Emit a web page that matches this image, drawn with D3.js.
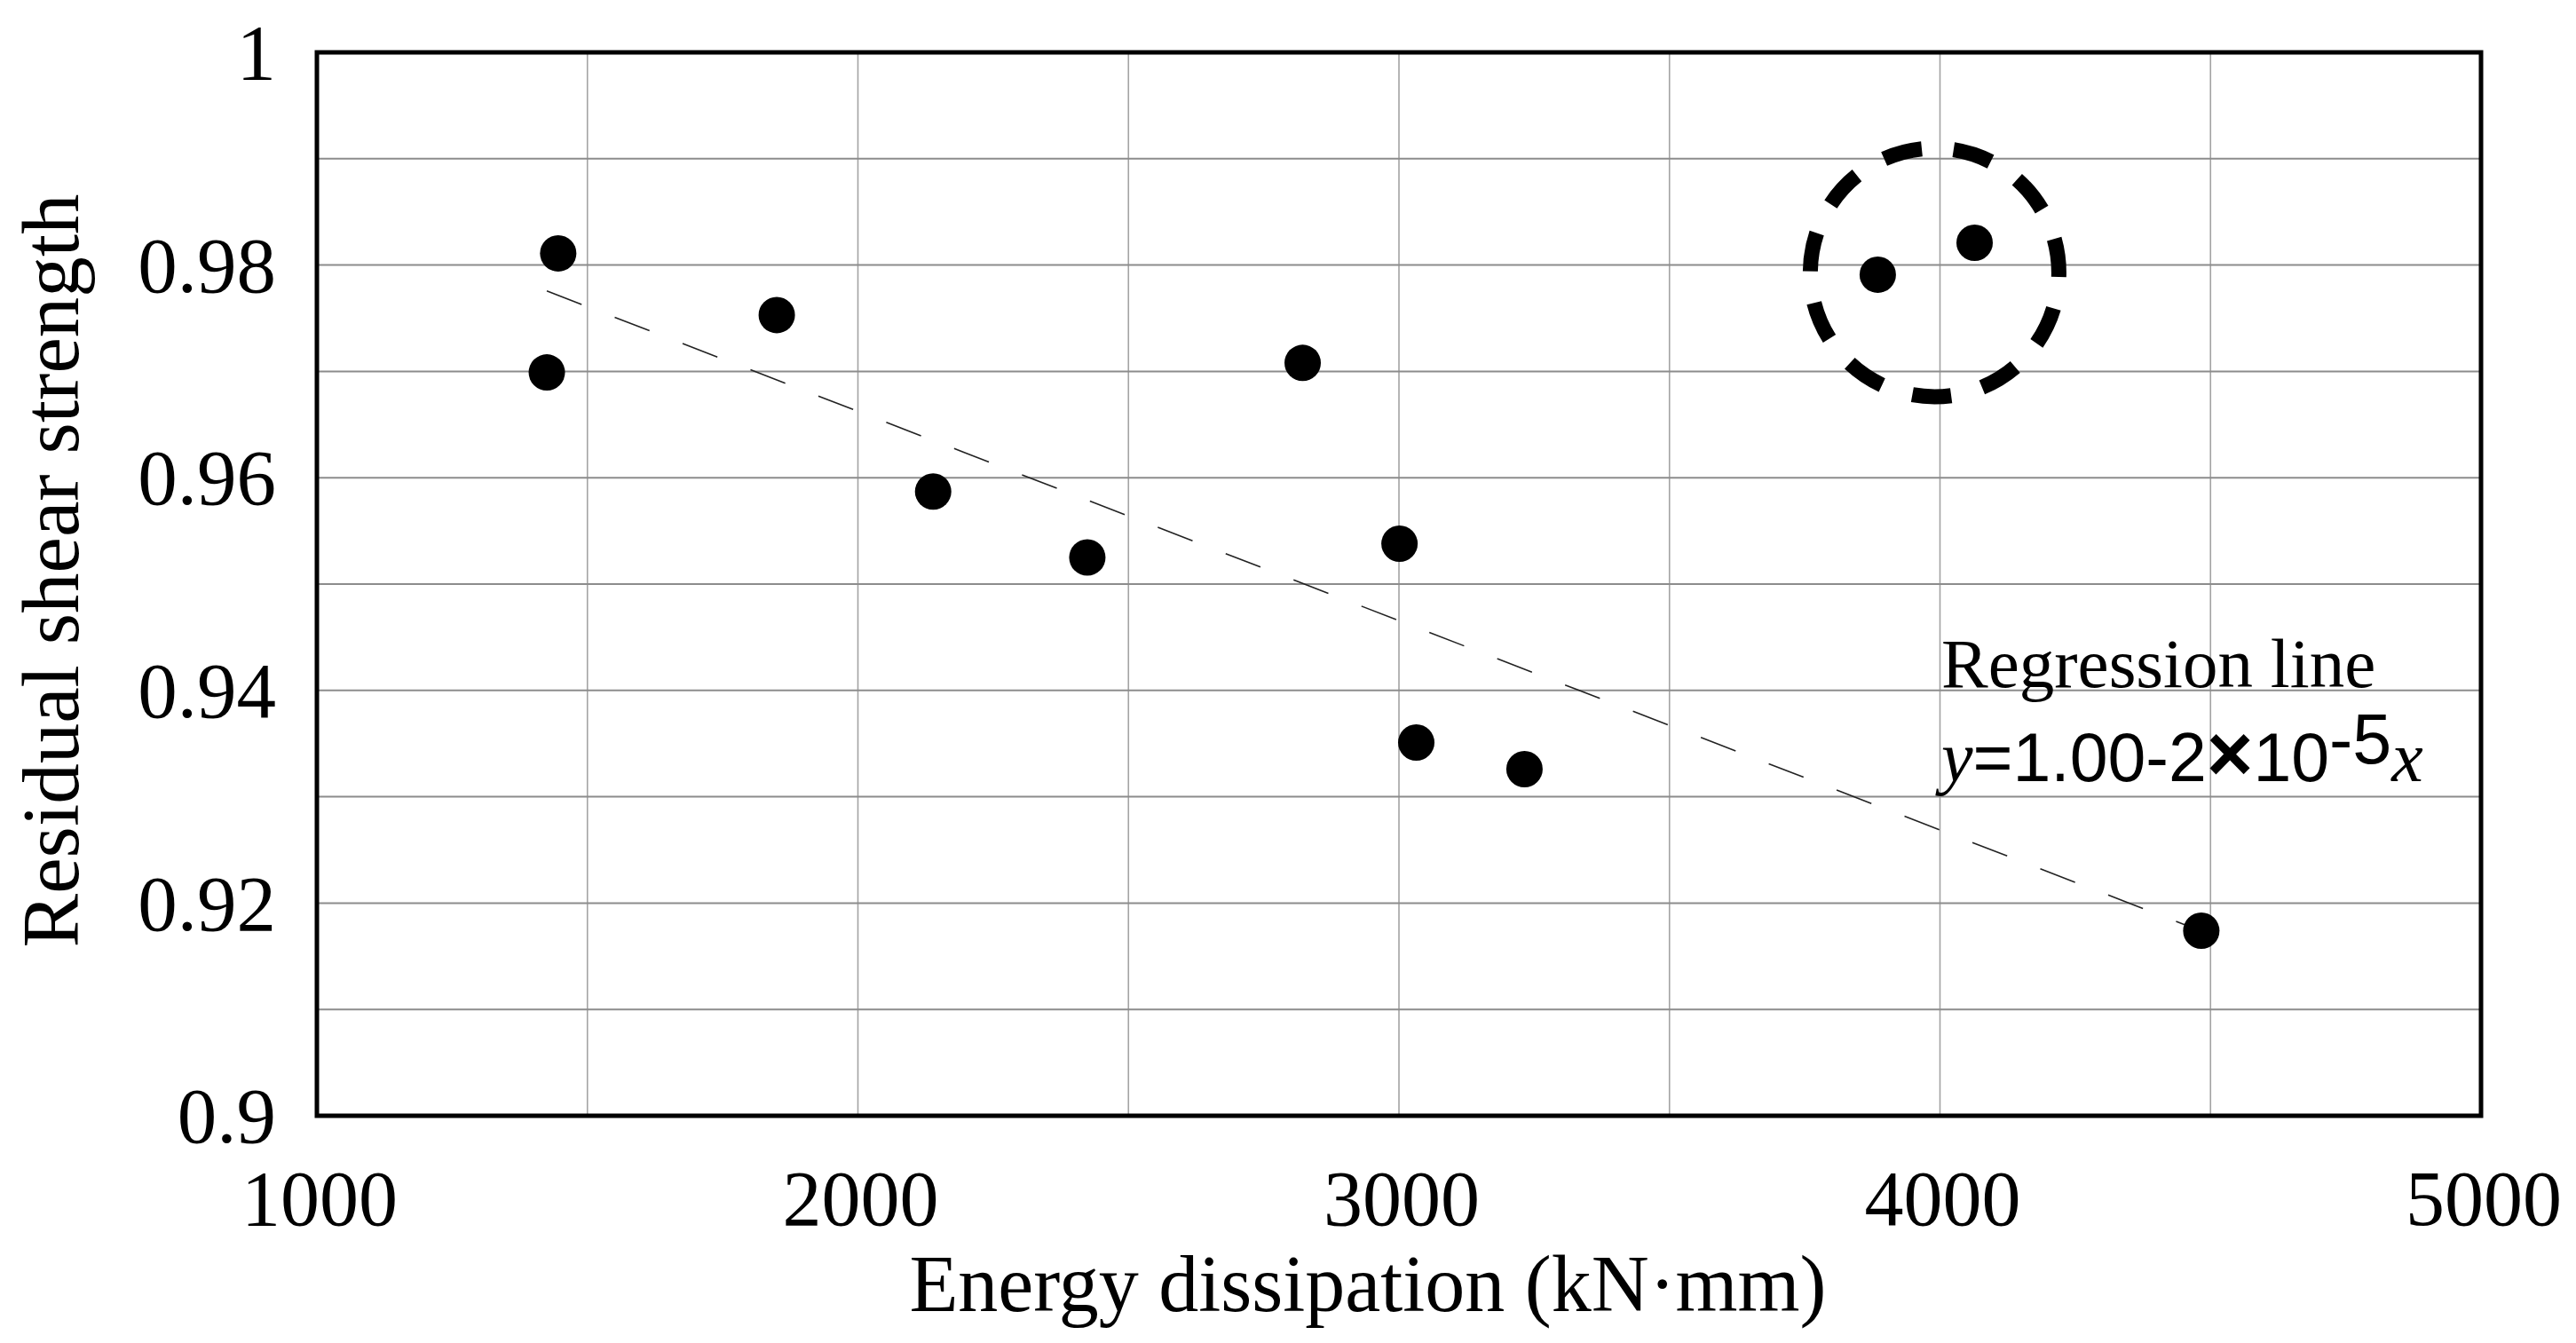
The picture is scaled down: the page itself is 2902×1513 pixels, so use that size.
<!DOCTYPE html>
<html>
<head>
<meta charset="utf-8">
<script src="https://cdn.jsdelivr.net/npm/d3@7"></script>
<style>
  body { margin: 0; background: #fff; }
  svg { display: block; }
</style>
</head>
<body>
<div id="chart"></div>
<script>
// data
const energy   = [1425, 1446, 1850, 2139, 2424, 2822, 3001, 3032, 3232, 3885, 4064, 4483];
const strength = [0.9699, 0.9811, 0.9753, 0.9587, 0.9525, 0.9708, 0.9538, 0.9351, 0.9326, 0.9791, 0.9821, 0.9174];
// points inside the dashed circle, left out of the regression
const circled = [9, 10];

const xTicks = [1000, 2000, 3000, 4000, 5000];
const xGrid = [1500, 2000, 2500, 3000, 3500, 4000, 4500];
const yTicks = [0.9, 0.92, 0.94, 0.96, 0.98, 1];
const yGrid = [0.91, 0.92, 0.93, 0.94, 0.95, 0.96, 0.97, 0.98, 0.99];

const circleCenter = { x: 3990, y: 0.9793 };

const serif = '"Liberation Serif", "Times New Roman", serif';
const sans = '"Liberation Sans", Arial, sans-serif';

document.addEventListener('DOMContentLoaded', function() {
  createChart();
});

function createChart() {
  const width = 2902;
  const height = 1513;
  const margin = { top: 59, right: 107, bottom: 256, left: 357 };
  const innerWidth = width - margin.left - margin.right;
  const innerHeight = height - margin.top - margin.bottom;

  const svg = d3.select('#chart').append('svg')
    .attr('width', width)
    .attr('height', height)
    .attr('viewBox', `0 0 ${width} ${height}`);

  svg.append('rect')
    .attr('width', width)
    .attr('height', height)
    .attr('fill', '#fff');

  const g = svg.append('g')
    .attr('transform', `translate(${margin.left},${margin.top})`);

  const x = d3.scaleLinear().domain([1000, 5000]).range([0, innerWidth]);
  const y = d3.scaleLinear().domain([0.9, 1]).range([innerHeight, 0]);

  // gridlines
  g.append('g')
    .selectAll('line')
    .data(xGrid)
    .enter().append('line')
    .attr('x1', d => x(d)).attr('x2', d => x(d))
    .attr('y1', 0).attr('y2', innerHeight)
    .attr('stroke', '#a3a3a3')
    .attr('stroke-width', 1.6);

  g.append('g')
    .selectAll('line')
    .data(yGrid)
    .enter().append('line')
    .attr('x1', 0).attr('x2', innerWidth)
    .attr('y1', d => y(d)).attr('y2', d => y(d))
    .attr('stroke', '#8c8c8c')
    .attr('stroke-width', 2);

  // regression line from the non-circled points
  const pts = energy.map((e, i) => ({ x: e, y: strength[i], i }));
  const fitPts = pts.filter(p => !circled.includes(p.i));
  const mx = d3.mean(fitPts, p => p.x);
  const my = d3.mean(fitPts, p => p.y);
  const slope = d3.sum(fitPts, p => (p.x - mx) * (p.y - my)) / d3.sum(fitPts, p => (p.x - mx) * (p.x - mx));
  const intercept = my - slope * mx;
  const [x0, x1] = d3.extent(fitPts, p => p.x);

  g.append('line')
    .attr('x1', x(x0)).attr('y1', y(intercept + slope * x0))
    .attr('x2', x(x1)).attr('y2', y(intercept + slope * x1))
    .attr('stroke', '#222')
    .attr('stroke-width', 1.6)
    .attr('stroke-dasharray', '42,40');

  // points
  g.append('g')
    .selectAll('circle')
    .data(pts)
    .enter().append('circle')
    .attr('cx', d => x(d.x))
    .attr('cy', d => y(d.y))
    .attr('r', 20.5)
    .attr('fill', '#000');

  // dashed circle around the two outliers
  g.append('circle')
    .attr('cx', x(circleCenter.x))
    .attr('cy', y(circleCenter.y))
    .attr('r', 140)
    .attr('fill', 'none')
    .attr('stroke', '#000')
    .attr('stroke-width', 17)
    .attr('stroke-dasharray', '44,36')
    .attr('stroke-dashoffset', 39);

  // frame
  g.append('rect')
    .attr('width', innerWidth)
    .attr('height', innerHeight)
    .attr('fill', 'none')
    .attr('stroke', '#000')
    .attr('stroke-width', 5);

  // tick labels
  g.append('g')
    .selectAll('text')
    .data(yTicks)
    .enter().append('text')
    .attr('x', -46)
    .attr('y', d => y(d))
    .attr('dy', '0.34em')
    .attr('text-anchor', 'end')
    .attr('font-family', serif)
    .attr('font-size', 89)
    .text(d => +d.toFixed(2));

  g.append('g')
    .selectAll('text')
    .data(xTicks)
    .enter().append('text')
    .attr('x', d => x(d) + 3)
    .attr('y', innerHeight + 123)
    .attr('text-anchor', 'middle')
    .attr('font-family', serif)
    .attr('font-size', 88)
    .text(d => d);

  // axis titles
  svg.append('text')
    .attr('x', 1541)
    .attr('y', 1477)
    .attr('text-anchor', 'middle')
    .attr('font-family', serif)
    .attr('font-size', 90)
    .text('Energy dissipation (kN·mm)');

  svg.append('text')
    .attr('transform', 'translate(88,643) rotate(-90)')
    .attr('text-anchor', 'middle')
    .attr('font-family', serif)
    .attr('font-size', 91)
    .text('Residual shear strength');

  // regression annotation
  svg.append('text')
    .attr('x', 2187)
    .attr('y', 774)
    .attr('font-family', serif)
    .attr('font-size', 79)
    .text('Regression line');

  const eq = svg.append('text')
    .attr('x', 2187)
    .attr('y', 880);
  eq.append('tspan')
    .attr('font-family', serif).attr('font-style', 'italic').attr('font-size', 80)
    .text('y');
  eq.append('tspan')
    .attr('font-family', sans).attr('font-size', 77)
    .text('=1.00-2');
  eq.append('tspan')
    .attr('font-family', sans).attr('font-weight', 'bold').attr('font-size', 90)
    .text('×');
  eq.append('tspan')
    .attr('font-family', sans).attr('font-size', 77)
    .text('10');
  eq.append('tspan')
    .attr('font-family', sans).attr('font-size', 79).attr('dy', -20)
    .text('-5');
  eq.append('tspan')
    .attr('font-family', serif).attr('font-style', 'italic').attr('font-size', 80).attr('dy', 20)
    .text('x');
}
</script>
</body>
</html>
